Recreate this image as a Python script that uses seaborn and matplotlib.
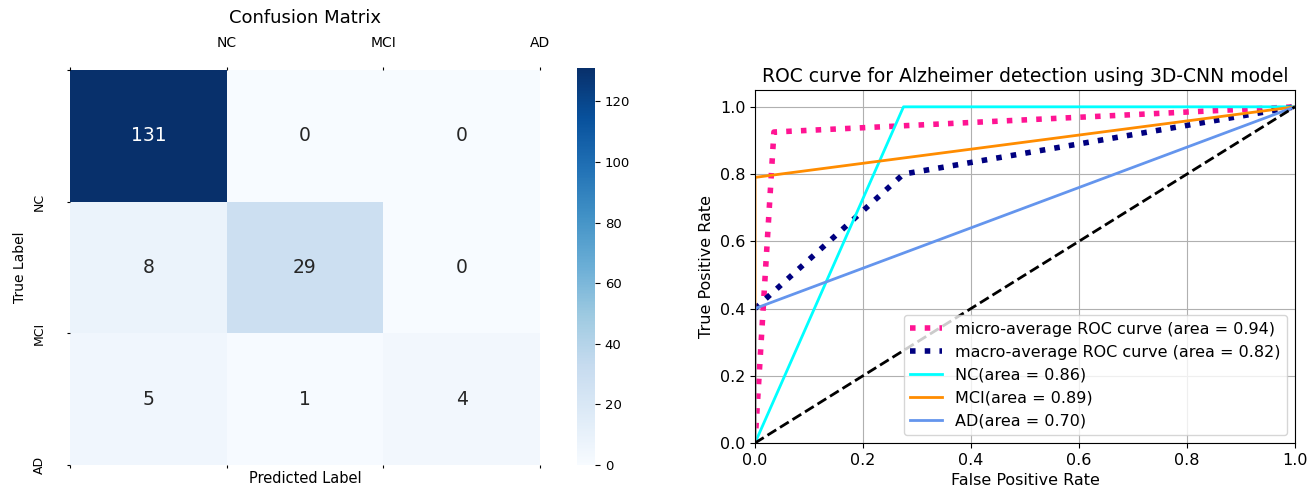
import numpy as np
import matplotlib
matplotlib.use("Agg")
import matplotlib.pyplot as plt
import seaborn as sns

# confusion matrix
class_names = ['NC', 'MCI', 'AD']
cm = np.array([[131, 0, 0],
               [8, 29, 0],
               [5, 1, 4]])

# roc points
micro_fpr = [0.0, 0.035, 1.0]
micro_tpr = [0.0, 0.925, 1.0]
macro_fpr = [0.0, 0.275, 1.0]
macro_tpr = [0.40, 0.80, 1.0]
nc_fpr = [0.0, 0.275, 1.0]
nc_tpr = [0.0, 1.0, 1.0]
mci_fpr = [0.0, 0.0, 1.0]
mci_tpr = [0.0, 0.79, 1.0]
ad_fpr = [0.0, 0.0, 1.0]
ad_tpr = [0.0, 0.40, 1.0]

W, H = 1315, 494
fig = plt.figure(figsize=(W / 100, H / 100), dpi=100)

ax1 = fig.add_axes([70 / W, (H - 465) / H, 470 / W, 395 / H])
cax = fig.add_axes([577 / W, (H - 465) / H, 18 / W, 397 / H])
ax2 = fig.add_axes([755 / W, (H - 443) / H, 540 / W, 353 / H])

sns.heatmap(cm, annot=True, fmt='d', cmap='Blues', ax=ax1, cbar_ax=cax,
            annot_kws={'size': 13.5})
ax1.set_xticks([0, 1, 2, 3])
ax1.set_yticks([0, 1, 2, 3])
ax1.set_xticklabels([''] + class_names, fontsize=10)
ax1.set_yticklabels([''] + class_names, fontsize=9, rotation=90, va='center')
ax1.tick_params(axis='x', top=True, bottom=True, labeltop=True, labelbottom=False,
                length=2.5, pad=12)
ax1.tick_params(axis='y', length=2.5, pad=15)
ax1.set_xlabel('Predicted Label', fontsize=10.5, labelpad=2)
ax1.set_ylabel('True Label', fontsize=10, labelpad=4)
ax1.set_title('Confusion Matrix', fontsize=13, pad=9)
cax.tick_params(labelsize=9.5)

ax2.plot(micro_fpr, micro_tpr, color='deeppink', linestyle=':', linewidth=4,
         label='micro-average ROC curve (area = 0.94)')
ax2.plot(macro_fpr, macro_tpr, color='navy', linestyle=':', linewidth=4,
         label='macro-average ROC curve (area = 0.82)')
ax2.plot(nc_fpr, nc_tpr, color='aqua', lw=2, label='NC(area = 0.86)')
ax2.plot(mci_fpr, mci_tpr, color='darkorange', lw=2, label='MCI(area = 0.89)')
ax2.plot(ad_fpr, ad_tpr, color='cornflowerblue', lw=2, label='AD(area = 0.70)')
ax2.plot([0, 1], [0, 1], 'k--', lw=2)
ax2.set_xlim([0.0, 1.0])
ax2.set_ylim([0.0, 1.05])
ax2.grid(True)
ax2.tick_params(labelsize=11.5)
ax2.set_xlabel('False Positive Rate', fontsize=11.5)
ax2.set_ylabel('True Positive Rate', fontsize=11.5)
ax2.set_title('ROC curve for Alzheimer detection using 3D-CNN model', fontsize=13.5)
ax2.legend(loc='lower right', fontsize=11.5)

fig.savefig('out.png', dpi=100)
